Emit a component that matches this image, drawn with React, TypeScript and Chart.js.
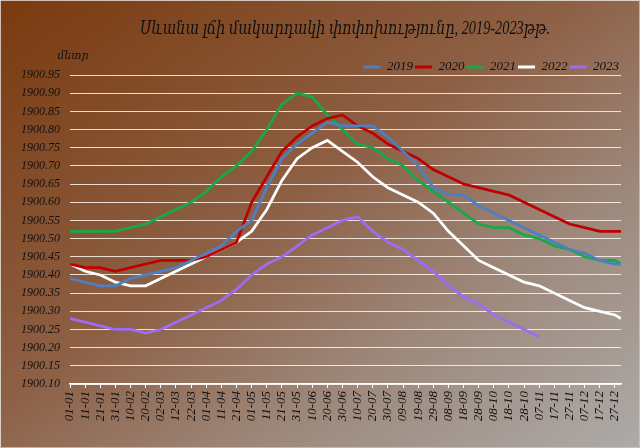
import React, { useEffect, useRef } from 'react';
import { Chart, registerables } from 'chart.js';

Chart.register(...registerables);

const titleText = 'Սևանա լճի մակարդակի փոփոխությունը, 2019-2023թթ.';
const unitText = 'մետր';

// x-axis tick labels (day-month), one every 10 days
const tickLabels = [
  '01-01', '11-01', '21-01', '31-01', '10-02', '20-02', '02-03', '12-03', '22-03',
  '01-04', '11-04', '21-04', '01-05', '11-05', '21-05', '31-05', '10-06', '20-06',
  '30-06', '10-07', '20-07', '30-07', '09-08', '19-08', '29-08', '08-09', '18-09',
  '28-09', '08-10', '18-10', '28-10', '07-11', '17-11', '27-11', '07-12', '17-12',
  '27-12',
];

// day of the year (0 = 1 January) of each reading; last one is 31 December
const days = [
  0, 10, 20, 30, 40, 50, 60, 70, 80, 90, 100, 110, 120, 130, 140, 150, 160, 170, 180,
  190, 200, 210, 220, 230, 240, 250, 260, 270, 280, 290, 300, 310, 320, 330, 340, 350,
  360, 364,
];

// lake level, metres above sea level
const level2019 = [
  1900.39, 1900.38, 1900.37, 1900.37, 1900.39, 1900.40, 1900.41, 1900.42, 1900.44, 1900.46,
  1900.48, 1900.52, 1900.55, 1900.64, 1900.72, 1900.76, 1900.79, 1900.82, 1900.81, 1900.81,
  1900.81, 1900.78, 1900.74, 1900.70, 1900.64, 1900.62, 1900.62, 1900.59, 1900.57, 1900.55,
  1900.53, 1900.51, 1900.49, 1900.47, 1900.46, 1900.44, 1900.43, 1900.43,
];
const level2020 = [
  1900.43, 1900.42, 1900.42, 1900.41, 1900.42, 1900.43, 1900.44, 1900.44, 1900.44, 1900.45,
  1900.47, 1900.49, 1900.60, 1900.67, 1900.74, 1900.78, 1900.81, 1900.83, 1900.84, 1900.81,
  1900.79, 1900.76, 1900.74, 1900.72, 1900.69, 1900.67, 1900.65, 1900.64, 1900.63, 1900.62,
  1900.60, 1900.58, 1900.56, 1900.54, 1900.53, 1900.52, 1900.52, 1900.52,
];
const level2021 = [
  1900.52, 1900.52, 1900.52, 1900.52, 1900.53, 1900.54, 1900.56, 1900.58, 1900.60, 1900.63,
  1900.67, 1900.70, 1900.74, 1900.80, 1900.87, 1900.90, 1900.89, 1900.84, 1900.80, 1900.76,
  1900.75, 1900.72, 1900.70, 1900.66, 1900.63, 1900.60, 1900.57, 1900.54, 1900.53, 1900.53,
  1900.51, 1900.50, 1900.48, 1900.47, 1900.45, 1900.44, 1900.44, 1900.43,
];
const level2022 = [
  1900.43, 1900.41, 1900.40, 1900.38, 1900.37, 1900.37, 1900.39, 1900.41, 1900.43, 1900.45,
  1900.47, 1900.49, 1900.52, 1900.58, 1900.66, 1900.72, 1900.75, 1900.77, 1900.74, 1900.71,
  1900.67, 1900.64, 1900.62, 1900.60, 1900.57, 1900.52, 1900.48, 1900.44, 1900.42, 1900.40,
  1900.38, 1900.37, 1900.35, 1900.33, 1900.31, 1900.30, 1900.29, 1900.28,
];
const level2023: (number | null)[] = [
  1900.28, 1900.27, 1900.26, 1900.25, 1900.25, 1900.24, 1900.25, 1900.27, 1900.29, 1900.31,
  1900.33, 1900.36, 1900.40, 1900.43, 1900.45, 1900.48, 1900.51, 1900.53, 1900.55, 1900.56,
  1900.52, 1900.49, 1900.47, 1900.44, 1900.41, 1900.37, 1900.34, 1900.32, 1900.29, 1900.27,
  1900.25, 1900.23, null, null, null, null, null, null,
];

const years = ['2019', '2020', '2021', '2022', '2023'];
const colors = ['#4f7fc0', '#c00000', '#17a84a', '#ffffff', '#9d6cf0'];
const seriesList = [level2019, level2020, level2021, level2022, level2023];

const FONT = "'Liberation Serif', 'DejaVu Serif', serif";
const TEXT = '#141010';

// title and unit caption, drawn onto the canvas
const captions = {
  id: 'captions',
  afterDraw(chart: Chart) {
    const { ctx } = chart;
    ctx.save();
    ctx.fillStyle = TEXT;
    ctx.textAlign = 'center';
    ctx.textBaseline = 'middle';

    ctx.font = `italic 11px ${FONT}`;
    ctx.fillText(unitText, 72, 55);

    ctx.font = `italic 19px ${FONT}`;
    const w = ctx.measureText(titleText).width;
    ctx.translate(344, 28);
    ctx.scale(Math.min(1, 410 / w), 1);
    ctx.fillText(titleText, 0, 0);
    ctx.restore();
  },
};

function LevelChart() {
  const canvasRef = useRef<HTMLCanvasElement>(null);

  useEffect(() => {
    if (!canvasRef.current) return;

    const chart = new Chart(canvasRef.current, {
      type: 'line',
      data: {
        datasets: years.map((year, s) => ({
          label: year,
          data: days.map((d, i) => ({ x: d, y: seriesList[s][i] })),
          borderColor: colors[s],
          backgroundColor: colors[s],
          borderWidth: 2.75,
          pointRadius: 0,
          tension: 0,
        })),
      },
      options: {
        animation: false,
        responsive: true,
        maintainAspectRatio: false,
        layout: { padding: { left: 0, right: 18, top: 57.5, bottom: 0 } },
        plugins: {
          title: { display: false },
          legend: {
            position: 'top',
            align: 'end',
            maxHeight: 16.5,
            maxWidth: 611,
            labels: {
              boxWidth: 17,
              boxHeight: 3,
              padding: 2,
              color: TEXT,
              font: { family: FONT, size: 13, style: 'italic' },
              generateLabels: (c: Chart) =>
                Chart.defaults.plugins.legend.labels
                  .generateLabels(c)
                  .map((item) => ({ ...item, lineWidth: 0 })),
            },
          },
          tooltip: { enabled: false },
        },
        scales: {
          x: {
            type: 'linear',
            min: 0,
            max: 364,
            afterBuildTicks: (axis) => {
              axis.ticks = days
                .slice(0, tickLabels.length)
                .map((d) => ({ value: d }));
            },
            afterFit: (axis) => {
              axis.height = 63;
            },
            ticks: {
              autoSkip: false,
              maxRotation: 90,
              minRotation: 90,
              padding: 3,
              color: TEXT,
              font: { family: FONT, size: 13, style: 'italic' },
              callback: (value) => tickLabels[days.indexOf(Number(value))] ?? '',
            },
            grid: {
              display: true,
              drawOnChartArea: false,
              drawTicks: true,
              tickLength: 4,
              color: '#ffffff',
            },
            border: { display: true, color: '#ffffff', width: 1.5 },
          },
          y: {
            min: 1900.1,
            max: 1900.95,
            afterFit: (axis) => {
              axis.width = 69;
            },
            ticks: {
              stepSize: 0.05,
              padding: 10,
              color: TEXT,
              font: { family: FONT, size: 12, style: 'italic' },
              callback: (value) => Number(value).toFixed(2),
            },
            grid: {
              color: 'rgba(255, 246, 238, 0.85)',
              lineWidth: 1,
              drawTicks: false,
            },
            border: { display: false },
          },
        },
      },
      plugins: [captions],
    });

    return () => {
      chart.destroy();
    };
  }, []);

  return (
    <div
      style={{
        position: 'absolute',
        left: 0,
        top: 0,
        width: 640,
        height: 448,
        boxSizing: 'border-box',
        border: '1px solid rgba(236, 226, 216, 0.7)',
        background:
          'linear-gradient(to bottom right, #7a3a0f 0%, #8d6045 45%, #9d887b 70%, #adaaa8 100%)',
      }}
    >
      <canvas ref={canvasRef}></canvas>
    </div>
  );
}

export default function App() {
  return <LevelChart />;
}
